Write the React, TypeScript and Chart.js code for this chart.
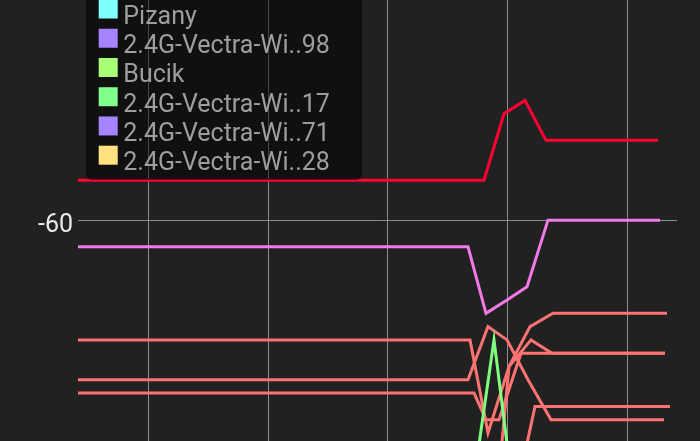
import { useEffect, useRef } from "react";
import { Chart, registerables } from "chart.js";

Chart.register(...registerables);

// time axis (seconds) and signal axis (dBm)
const xTickValues = [6, 12, 18, 24, 30];
const yTickValues = [-60];
const xMin = 2.5;
const xMax = 32.45;
const yMin = -76.6;
const yMax = -43.45;

// series: scan times (s) and RSSI (dBm)
const redTimes = [0, 22.8, 23.8, 24.85, 25.9, 31.5];
const redRssi = [-57, -57, -52, -51, -54, -54];

const pinkTimes = [0, 22.0, 22.9, 23.95, 24.95, 26.0, 31.6];
const pinkRssi = [-62, -62, -67, -66, -65, -60, -60];

const salmon1Times = [0, 22.1, 23.0, 24.05, 25.1, 26.25, 31.95];
const salmon1Rssi = [-69, -69, -76, -71, -68, -67, -67];

const salmon2Times = [0, 22.0, 23.0, 23.95, 25.0, 26.15, 31.8];
const salmon2Rssi = [-72, -72, -68, -69, -72, -75, -75];

const salmon3Times = [0, 22.3, 22.9, 23.55, 24.65, 31.85];
const salmon3Rssi = [-73, -73, -75, -75, -70, -70];

const salmon4Times = [0, 23.0, 24.05, 25.15, 26.2, 31.85];
const salmon4Rssi = [-88, -88, -71, -69, -70, -70];

const salmon5Times = [0, 24.2, 25.35, 32.1];
const salmon5Rssi = [-86, -82, -74, -74];

const greenTimes = [0, 22.25, 23.3, 24.3, 31.6];
const greenRssi = [-85, -80, -69, -81, -85];

// legend entries visible in the overlay
const legendNames = [
  "Pizany",
  "2.4G-Vectra-Wi..98",
  "Bucik",
  "2.4G-Vectra-Wi..17",
  "2.4G-Vectra-Wi..71",
  "2.4G-Vectra-Wi..28",
];
const legendColors = ["#80ffff", "#a484ff", "#aaff78", "#80ff8c", "#a484ff", "#ffe282"];

const SALMON = "#ff7373";

function pts(xs: number[], ys: number[]) {
  return xs.map((x, i) => ({ x, y: ys[i] }));
}

const legendOverlay = {
  id: "legendOverlay",
  afterDraw(chart: any) {
    const ctx = chart.ctx as CanvasRenderingContext2D;
    const ca = chart.chartArea;
    const left = ca.left + 8;
    const width = 276;
    const bottom = 180;
    const top = -80;
    ctx.save();
    ctx.fillStyle = "rgba(0,0,0,0.5)";
    ctx.beginPath();
    if ((ctx as any).roundRect) {
      (ctx as any).roundRect(left, top, width, bottom - top, 6);
    } else {
      ctx.rect(left, top, width, bottom - top);
    }
    ctx.fill();
    const pitch = 29.24;
    const sq = 19;
    const n = legendNames.length;
    ctx.font = "25px Roboto";
    ctx.textBaseline = "alphabetic";
    ctx.textAlign = "left";
    for (let i = 0; i < n; i++) {
      const rowTop = bottom - 34.3 - (n - 1 - i) * pitch;
      ctx.fillStyle = legendColors[i];
      ctx.fillRect(left + 12.7, rowTop, sq, sq);
      ctx.fillStyle = "#9e9e9e";
      ctx.fillText(legendNames[i], left + 37.3, rowTop + 24.3);
    }
    ctx.restore();
  },
};

export default function App() {
  const ref = useRef<HTMLCanvasElement | null>(null);

  useEffect(() => {
    if (!ref.current) return;
    const line = (label: string, color: string, xs: number[], ys: number[]) => ({
      label,
      data: pts(xs, ys),
      borderColor: color,
      backgroundColor: color,
      borderWidth: 3,
      pointRadius: 0,
      tension: 0,
      fill: false,
      clip: 0,
    });
    const chart = new Chart(ref.current, {
      type: "line",
      data: {
        datasets: [
          line("Network G", "#80ff80", greenTimes, greenRssi),
          line("Network R", "#ff0033", redTimes, redRssi),
          line("Network P", "#f27ae6", pinkTimes, pinkRssi),
          line("Network S1", SALMON, salmon1Times, salmon1Rssi),
          line("Network S2", SALMON, salmon2Times, salmon2Rssi),
          line("Network S3", SALMON, salmon3Times, salmon3Rssi),
          line("Network S4", SALMON, salmon4Times, salmon4Rssi),
          line("Network S5", SALMON, salmon5Times, salmon5Rssi),
        ] as any,
      },
      options: {
        responsive: false,
        animation: false,
        devicePixelRatio: 1,
        layout: { padding: { left: 0, right: 23, top: 0, bottom: 0 } },
        plugins: { legend: { display: false }, tooltip: { enabled: false } },
        scales: {
          x: {
            type: "linear",
            min: xMin,
            max: xMax,
            grid: { color: "#8e8e8e", lineWidth: 1, drawTicks: false },
            border: { display: false },
            ticks: { display: false },
            afterBuildTicks: (s: any) => {
              s.ticks = xTickValues.map((v) => ({ value: v }));
            },
            afterFit: (s: any) => {
              s.height = 0;
              s.paddingLeft = 0;
              s.paddingRight = 0;
            },
          },
          y: {
            type: "linear",
            min: yMin,
            max: yMax,
            grid: { color: "#8e8e8e", lineWidth: 1, drawTicks: false },
            border: { display: false },
            ticks: {
              color: "#eaeaea",
              font: { family: "Roboto", size: 25 },
              padding: 5,
              labelOffset: 6,
              callback: (v: any) => String(v),
            },
            afterBuildTicks: (s: any) => {
              s.ticks = yTickValues.map((v) => ({ value: v }));
            },
            afterFit: (s: any) => {
              s.width = 78;
              s.paddingTop = 0;
              s.paddingBottom = 0;
            },
          },
        },
      } as any,
      plugins: [legendOverlay],
    });
    return () => chart.destroy();
  }, []);

  return (
    <div
      style={{
        position: "fixed",
        left: 0,
        top: 0,
        width: 700,
        height: 441,
        background: "#212121",
        overflow: "hidden",
      }}
    >
      <canvas ref={ref} width={700} height={441} style={{ display: "block" }} />
    </div>
  );
}
